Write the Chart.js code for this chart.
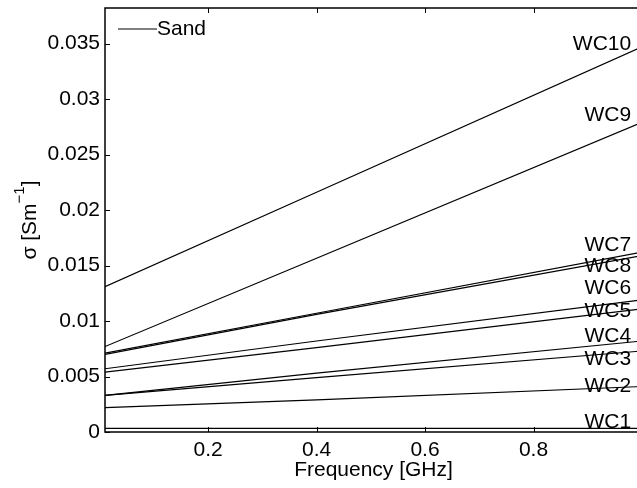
<!DOCTYPE html>
<html lang="en">
<head>
  <meta charset="UTF-8">
  <title>Conductivity of sand vs frequency</title>
  <style>
    html, body { margin: 0; padding: 0; background: #fff; overflow: hidden; }
    #wrap { position: absolute; left: 0; top: 0; width: 650px; height: 488px; }
  </style>
</head>
<body>
  <div id="wrap"><canvas id="grafico" width="650" height="488"></canvas></div>

  <script src="https://cdn.jsdelivr.net/npm/chart.js"></script>
  <script>
    // frequencies (GHz) at which the curves were read
    const freq = [0.01, 0.4, 1.0];

    const names = ['WC1', 'WC2', 'WC3', 'WC4', 'WC5', 'WC6', 'WC7', 'WC8', 'WC9', 'WC10'];
    const wc1  = [0.00033, 0.00033, 0.00033];
    const wc2  = [0.0022, 0.0029, 0.0041];
    const wc3  = [0.0033, 0.0049, 0.0073];
    const wc4  = [0.0033, 0.0053, 0.0082];
    const wc5  = [0.0054, 0.0076, 0.0111];
    const wc6  = [0.0057, 0.0082, 0.0119];
    const wc7  = [0.0071, 0.0107, 0.0162];
    const wc8  = [0.0070, 0.0106, 0.0159];
    const wc9  = [0.0077, 0.01565, 0.0279];
    const wc10 = [0.0131, 0.0216, 0.0347];
    const series = [wc1, wc2, wc3, wc4, wc5, wc6, wc7, wc8, wc9, wc10];

    // text labels next to the curves, in data units
    const labelX = 0.98;
    const labelY = [0.00085, 0.00414, 0.00652, 0.00864, 0.01089, 0.0130, 0.01687, 0.01498, 0.02852, 0.03496];

    const xTicks = [0.2, 0.4, 0.6, 0.8];
    const yTicks = [0, 0.005, 0.01, 0.015, 0.02, 0.025, 0.03, 0.035];
    const legendText = 'Sand';

    const FONT = '"Liberation Sans", Arial, Helvetica, sans-serif';
    Chart.defaults.font.family = FONT;
    Chart.defaults.font.size = 21;
    Chart.defaults.color = '#000';

    // box, inward ticks, curve labels, legend and y title (MATLAB look)
    const decor = {
      id: 'decor',
      afterDraw(chart) {
        const { ctx, chartArea: a, scales: { x, y } } = chart;
        ctx.save();
        ctx.strokeStyle = '#000';
        ctx.lineWidth = 1.5;
        ctx.strokeRect(a.left, a.top, a.right - a.left, a.bottom - a.top);

        ctx.lineWidth = 1;
        ctx.beginPath();
        x.ticks.forEach(t => {
          const px = Math.round(x.getPixelForValue(t.value)) + 0.5;
          ctx.moveTo(px, a.bottom); ctx.lineTo(px, a.bottom - 5);
          ctx.moveTo(px, a.top); ctx.lineTo(px, a.top + 5);
        });
        y.ticks.forEach(t => {
          const py = Math.round(y.getPixelForValue(t.value)) + 0.5;
          ctx.moveTo(a.left, py); ctx.lineTo(a.left + 5, py);
          ctx.moveTo(a.right, py); ctx.lineTo(a.right - 5, py);
        });
        ctx.stroke();

        ctx.fillStyle = '#000';
        ctx.font = '21px ' + FONT;
        ctx.textAlign = 'right';
        ctx.textBaseline = 'middle';
        names.forEach((n, i) => {
          ctx.fillText(n, x.getPixelForValue(labelX), y.getPixelForValue(labelY[i]));
        });

        // legend
        ctx.lineWidth = 1.2;
        ctx.beginPath();
        ctx.moveTo(a.left + 13, a.top + 21);
        ctx.lineTo(a.left + 52, a.top + 21);
        ctx.stroke();
        ctx.textAlign = 'left';
        ctx.fillText(legendText, a.left + 52, a.top + 21);

        // y axis title with superscript
        const main = 'σ [Sm', sup = '−1', tail = ']';
        ctx.font = '21px ' + FONT;
        const w1 = ctx.measureText(main).width, w3 = ctx.measureText(tail).width;
        ctx.font = '15px ' + FONT;
        const w2 = ctx.measureText(sup).width;
        const total = w1 + w2 + w3;
        ctx.translate(36, (a.top + a.bottom) / 2);
        ctx.rotate(-Math.PI / 2);
        ctx.textBaseline = 'alphabetic';
        ctx.font = '21px ' + FONT;
        ctx.fillText(main, -total / 2, 0);
        ctx.font = '15px ' + FONT;
        ctx.fillText(sup, -total / 2 + w1, -12);
        ctx.font = '21px ' + FONT;
        ctx.fillText(tail, -total / 2 + w1 + w2, 0);
        ctx.restore();
      }
    };

    const datasets = series.map((vals, i) => ({
      label: names[i],
      data: freq.map((f, j) => ({ x: f, y: vals[j] })),
      borderColor: '#000',
      borderWidth: 1.2,
      pointRadius: 0,
      fill: false,
      tension: 0
    }));

    const ctx = document.getElementById('grafico').getContext('2d');
    new Chart(ctx, {
      type: 'line',
      data: { datasets: datasets },
      options: {
        responsive: false,
        animation: false,
        devicePixelRatio: 1,
        events: [],
        layout: { padding: { top: 8, right: 8, left: 0, bottom: 0 } },
        plugins: { legend: { display: false }, tooltip: { enabled: false } },
        scales: {
          x: {
            type: 'linear',
            min: 0.01,
            max: 1.0,
            grid: { display: false, drawTicks: false },
            border: { display: false },
            afterBuildTicks: s => { s.ticks = xTicks.map(v => ({ value: v })); },
            afterFit: s => { s.height = 56; s.paddingLeft = 0; s.paddingRight = 0; },
            ticks: { padding: 6, maxRotation: 0, callback: v => String(+v.toFixed(3)) },
            title: { display: true, text: 'Frequency [GHz]', padding: { top: 0, bottom: 5 } }
          },
          y: {
            min: 0,
            max: 0.0382,
            grid: { display: false, drawTicks: false },
            border: { display: false },
            afterBuildTicks: s => { s.ticks = yTicks.map(v => ({ value: v })); },
            afterFit: s => { s.width = 105; s.paddingTop = 0; s.paddingBottom = 0; },
            ticks: { padding: 5, callback: v => String(+v.toFixed(4)) }
          }
        }
      },
      plugins: [decor]
    });
  </script>
</body>
</html>
